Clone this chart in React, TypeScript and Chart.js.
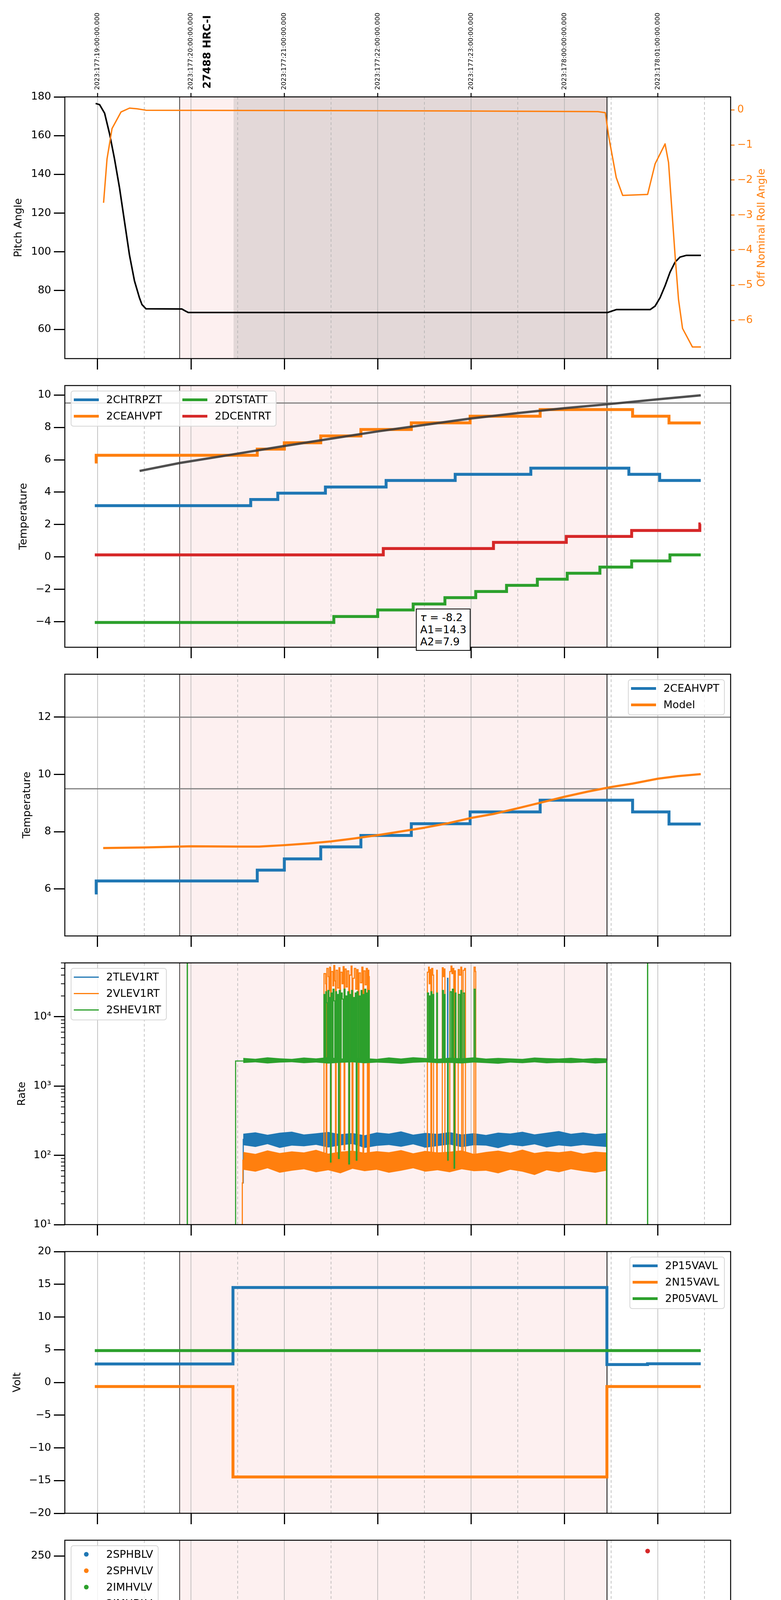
import Chart from "chart.js/auto";
import { useEffect, useRef } from "react";

Chart.defaults.font.family = "'DejaVu Sans', sans-serif";
Chart.defaults.color = "#000";

type Pt = [number, number | null];

const BLUE = "#1f77b4";
const ORANGE = "#ff7f0e";
const GREEN = "#2ca02c";
const RED = "#d62728";

// time axis (decimal hours, 2023-06-26 local)
const X_MIN = 14.649;
const X_MAX = 21.78;
const HOURS = [15, 16, 17, 18, 19, 20, 21];
const HOUR_LABELS = ["15h", "16h", "17h", "18h", "19h", "20h", "21h"];
const HALF_HOURS = [15.5, 16.5, 17.5, 18.5, 19.5, 20.5, 21.5];
const HALF_LABEL = "30";
const TOP_LABELS = [
  "2023:177:19:00:00.000",
  "2023:177:20:00:00.000",
  "2023:177:21:00:00.000",
  "2023:177:22:00:00.000",
  "2023:177:23:00:00.000",
  "2023:178:00:00:00.000",
  "2023:178:01:00:00.000",
];
const OBS_ID = "27488 HRC-I";
const OBS_ID_T = 16.18;
const OBS_START = 15.879;
const OBS_END = 20.456;
const HRC_ON = 16.456;
const X_TITLE = "2023-06-26 (177)";

// layout
const PANEL_TOPS = [248, 987, 1726, 2465, 3204, 3943, 4682, 5421];
const PANEL_H = 670;
const AXIS_LEFT = 166;
const AXIS_RIGHT = 1871;
const PAD_TOP = 50;
const PAD_BOTTOM = 60;

// ---------- panel 1: pitch / roll ----------
const PITCH: Pt[] = [
  [14.979, 176.6], [15.021, 176.0], [15.075, 171.6], [15.128, 161.0], [15.181, 148.0],
  [15.235, 133.0], [15.288, 115.7], [15.342, 98.2], [15.395, 85.0], [15.448, 76.3],
  [15.475, 72.8], [15.518, 70.6], [15.902, 70.5], [15.939, 69.5], [15.971, 68.7],
  [20.464, 68.7], [20.555, 70.2], [20.918, 70.2], [20.971, 72.0], [21.024, 76.3],
  [21.078, 82.5], [21.131, 89.5], [21.185, 94.7], [21.238, 97.3], [21.307, 98.2], [21.462, 98.2],
];
const ROLL: Pt[] = [
  [15.064, -2.65], [15.101, -1.4], [15.155, -0.53], [15.251, -0.06], [15.342, 0.05],
  [15.422, 0.03], [15.518, -0.01], [17.156, -0.02], [18.757, -0.03], [20.358, -0.05],
  [20.438, -0.08], [20.475, -0.77], [20.555, -1.93], [20.624, -2.44], [20.891, -2.41],
  [20.971, -1.54], [21.078, -0.97], [21.115, -1.5], [21.185, -4.15], [21.222, -5.41],
  [21.265, -6.23], [21.371, -6.76], [21.462, -6.76],
];
const PITCH_TICKS = [60, 80, 100, 120, 140, 160, 180];
const ROLL_TICKS = [-6, -5, -4, -3, -2, -1, 0];

// ---------- panel 2: temperatures ----------
const CHTRPZT: Pt[] = [
  [14.97, 3.17], [16.64, 3.55], [16.93, 3.94], [17.44, 4.32], [18.09, 4.72], [18.83, 5.1],
  [19.64, 5.48], [20.69, 5.1], [21.02, 4.72], [21.46, 4.72],
];
const CEAHVPT: Pt[] = [
  [14.97, 5.86], [14.985, 6.28], [16.71, 6.66], [17.0, 7.05], [17.39, 7.47], [17.82, 7.87],
  [18.36, 8.28], [18.99, 8.69], [19.74, 9.1], [20.73, 8.69], [21.12, 8.27], [21.46, 8.27],
];
const DTSTATT: Pt[] = [
  [14.97, -4.04], [17.53, -3.67], [18.0, -3.27], [18.38, -2.9], [18.72, -2.51], [19.05, -2.13],
  [19.38, -1.75], [19.71, -1.37], [20.03, -1.0], [20.38, -0.62], [20.72, -0.24], [21.13, 0.13], [21.46, 0.13],
];
const DCENTRT: Pt[] = [
  [14.97, 0.13], [18.06, 0.52], [19.24, 0.9], [20.02, 1.27], [20.72, 1.64], [21.45, 2.04], [21.46, 2.04],
];
const FIT_CURVE: Pt[] = [
  [15.45, 5.31], [15.88, 5.8], [16.46, 6.34], [17.0, 6.85], [17.5, 7.3], [18.0, 7.75], [18.5, 8.15],
  [19.0, 8.55], [19.5, 8.88], [20.0, 9.18], [20.45, 9.42], [21.0, 9.73], [21.46, 9.98],
];
const TEMP_TICKS = [-4, -2, 0, 2, 4, 6, 8, 10];
const FIT_TEXT = ["-8.2", "A1=14.3", "A2=7.9"];

// ---------- panel 3: model ----------
const CEA_MODEL: Pt[] = [
  [15.06, 7.43], [15.5, 7.45], [16.0, 7.49], [16.5, 7.48], [16.73, 7.48], [17.0, 7.53], [17.26, 7.59],
  [17.5, 7.66], [17.74, 7.76], [18.0, 7.88], [18.25, 8.01], [18.5, 8.14], [18.76, 8.3], [19.0, 8.48],
  [19.24, 8.62], [19.5, 8.82], [19.74, 9.01], [20.0, 9.22], [20.25, 9.4], [20.5, 9.56], [20.73, 9.68],
  [21.0, 9.85], [21.21, 9.94], [21.46, 10.01],
];
const MODEL_TICKS = [6, 8, 10, 12];

// ---------- panel 4: rates ----------
const RATE_T = [
  16.56, 16.69, 16.82, 16.95, 17.08, 17.21, 17.34, 17.47, 17.6, 17.73, 17.86, 17.99, 18.12, 18.25, 18.38,
  18.51, 18.64, 18.77, 18.9, 19.03, 19.16, 19.29, 19.42, 19.55, 19.68, 19.81, 19.94, 20.07, 20.2, 20.33, 20.45,
];
const TLEV_HI = [205, 215, 198, 212, 220, 200, 208, 218, 202, 210, 195, 214, 206, 222, 199, 211, 204, 216, 200, 209, 197, 213, 207, 219, 201, 212, 224, 205, 214, 203, 210];
const TLEV_LO = [140, 132, 145, 128, 138, 135, 142, 130, 139, 146, 128, 137, 141, 133, 144, 129, 136, 143, 131, 140, 138, 127, 142, 135, 144, 130, 139, 134, 141, 136, 132];
const VLEV_HI = [112, 105, 118, 108, 114, 110, 120, 106, 113, 117, 109, 115, 111, 119, 107, 116, 110, 113, 118, 105, 112, 117, 109, 121, 108, 114, 111, 116, 106, 113, 110];
const VLEV_LO = [62, 58, 65, 56, 60, 63, 57, 61, 55, 64, 59, 62, 56, 60, 65, 58, 61, 57, 63, 59, 60, 55, 62, 58, 52, 61, 57, 63, 59, 56, 60];
const SHEV_HI = [2550, 2480, 2600, 2520, 2470, 2580, 2510, 2620, 2490, 2560, 2530, 2470, 2590, 2500, 2610, 2540, 2480, 2570, 2520, 2600, 2490, 2550, 2510, 2470, 2580, 2530, 2500, 2560, 2480, 2540, 2510];
const SHEV_LO = [2150, 2200, 2120, 2180, 2210, 2140, 2190, 2110, 2170, 2200, 2130, 2180, 2150, 2090, 2170, 2200, 2140, 2160, 2120, 2190, 2150, 2100, 2180, 2140, 2200, 2130, 2170, 2150, 2190, 2120, 2160];
const TLEV1RT: Pt[] = [[16.555, 40], [16.56, 170], [18.748, 36000], [18.752, 170], [20.45, 140], [20.452, 140]];
const VLEV1RT: Pt[] = [
  [16.545, 8], [16.55, 40], [16.556, 85],
  [17.42, 90], [17.425, 42000], [17.442, 30000], [17.448, 95], [17.455, 50000], [17.47, 38000], [17.478, 24000],
  [17.485, 52000], [17.495, 100], [17.503, 45000], [17.52, 28000], [17.53, 55000], [17.54, 33000], [17.548, 110],
  [17.555, 47000], [17.57, 26000], [17.585, 51000], [17.595, 85], [17.602, 44000], [17.618, 30000], [17.63, 53000],
  [17.64, 120], [17.648, 49000], [17.662, 27000], [17.675, 46000], [17.69, 100], [17.7, 40000], [17.715, 54000],
  [17.725, 90], [17.735, 36000], [17.75, 50000], [17.765, 25000], [17.778, 48000], [17.79, 95], [17.8, 43000],
  [17.815, 31000], [17.83, 52000], [17.842, 105], [17.85, 46000], [17.865, 29000], [17.878, 50000], [17.89, 100],
  [17.898, 47000], [17.905, 38000], [17.91, 90],
  [18.528, 90], [18.532, 44000], [18.545, 52000], [18.552, 30000], [18.56, 48000], [18.57, 95], [18.578, 50000],
  [18.59, 40000], [18.598, 100], [18.628, 95], [18.632, 47000], [18.638, 90], [18.688, 100], [18.692, 51000],
  [18.702, 38000], [18.712, 49000], [18.72, 90], [18.768, 100], [18.772, 45000], [18.785, 54000], [18.795, 42000],
  [18.805, 50000], [18.815, 95], [18.825, 46000], [18.832, 100], [18.858, 90], [18.862, 48000], [18.875, 40000],
  [18.89, 52000], [18.9, 100], [18.915, 47000], [18.93, 50000], [18.94, 95], [19.028, 100], [19.032, 52000],
  [19.045, 45000], [19.05, 100], [20.45, 8], [20.46, 8],
];
const SHEV1RT: Pt[] = [
  [15.957, 5], [15.96, 1e6], [15.962, 5], [15.97, null],
  [16.47, 5], [16.478, 2300],
  [17.42, 2300], [17.424, 21000], [17.436, 2400], [17.444, 23000], [17.452, 16000], [17.46, 2300], [17.468, 24000],
  [17.478, 2500], [17.486, 19000], [17.494, 80], [17.5, 22000], [17.512, 2300], [17.522, 25000], [17.532, 17000],
  [17.54, 2400], [17.55, 23000], [17.56, 2300], [17.57, 21000], [17.58, 90], [17.588, 24000], [17.6, 2300],
  [17.61, 22000], [17.62, 18000], [17.63, 2400], [17.64, 25000], [17.65, 2300], [17.66, 20000], [17.67, 2300],
  [17.68, 23000], [17.69, 75], [17.698, 21000], [17.71, 2400], [17.72, 24000], [17.73, 2300], [17.74, 19000],
  [17.75, 2300], [17.76, 22000], [17.77, 85], [17.778, 23000], [17.79, 2400], [17.8, 20000], [17.812, 2300],
  [17.822, 24000], [17.832, 2300], [17.842, 21000], [17.852, 2400], [17.862, 25000], [17.872, 2300],
  [17.882, 22000], [17.892, 2300], [17.9, 24000], [17.91, 2300],
  [18.528, 2300], [18.532, 22000], [18.545, 2400], [18.552, 20000], [18.56, 2300], [18.57, 23000], [18.58, 2300],
  [18.592, 21000], [18.6, 2300], [18.628, 2300], [18.632, 22000], [18.64, 2400], [18.69, 2300], [18.694, 24000],
  [18.705, 2300], [18.715, 21000], [18.722, 2300], [18.745, 2300], [18.75, 85], [18.755, 2300], [18.77, 2300],
  [18.775, 23000], [18.79, 2400], [18.8, 25000], [18.812, 2300], [18.818, 65], [18.824, 2300], [18.83, 22000],
  [18.838, 2300], [18.86, 2300], [18.865, 21000], [18.88, 2300], [18.89, 24000], [18.9, 2300], [18.915, 22000],
  [18.93, 2400], [18.94, 2300], [19.028, 2300], [19.032, 25000], [19.045, 2300],
  [20.45, 2300], [20.452, 5], [20.46, null],
  [20.887, 5], [20.89, 1e6], [20.892, 5],
];
const RATE_TICKS = [10, 100, 1000, 10000];
const RATE_LABELS = ["10\u00b9", "10\u00b2", "10\u00b3", "10\u2074"];

// ---------- panel 5: voltages ----------
const P15VAVL: Pt[] = [[14.97, 2.82], [16.45, 14.51], [20.455, 2.73], [20.89, 2.85], [21.46, 2.85]];
const N15VAVL: Pt[] = [[14.97, -0.62], [16.45, -14.45], [20.455, -0.62], [21.46, -0.62]];
const P05VAVL: Pt[] = [[14.97, 4.87], [21.46, 4.87]];
const VOLT_TICKS = [-20, -15, -10, -5, 0, 5, 10, 15, 20];

// ---------- panel 6: HV monitors ----------
const IMHVLV_RUN: Pt[] = [
  [16.499, 108], [16.501, 104], [16.503, 100], [16.506, 97], [16.51, 94], [16.514, 91], [16.518, 88],
  [16.523, 85], [16.53, 82], [16.54, 80], [16.55, 79.2], [20.45, 79.2],
];
const IMHVLV_OUT: Pt[] = [[17.439, 127], [17.476, 127], [17.556, 127], [17.801, 127], [17.834, 127], [18.789, 127], [18.869, 127], [19.039, 127]];
const IMHBLV_RUN: Pt[] = [
  [16.5, 127], [16.5, 125], [16.501, 122], [16.502, 115], [16.505, 110], [16.507, 106], [16.51, 102],
  [16.514, 99], [16.517, 97], [16.52, 95], [16.525, 93], [16.53, 91], [16.535, 89], [16.545, 87.5],
  [16.555, 86.5], [16.565, 86], [20.45, 86],
];
const IMHBLV_OUT: Pt[] = [
  [17.449, 79.5], [17.476, 79.5], [17.556, 79.5], [17.647, 79.5], [17.796, 79.5], [17.828, 79.5],
  [18.789, 79.5], [18.869, 79.5], [19.039, 79.5], [20.891, 255],
];
const HV_TICKS = [0, 50, 100, 150, 200, 250];

// ---------- panel 7: detector temps ----------
const SPINATM: Pt[] = [
  [16.455, -0.5], [16.46, 3.25],
  [17.42, -0.5], [17.43, 3.25], [17.44, -0.5], [17.455, 3.25], [17.465, -0.5], [17.48, 3.25], [17.49, -0.5],
  [17.515, 3.25], [17.525, -0.5], [17.545, 3.25], [17.555, -0.5], [17.59, 3.25], [17.6, -0.5], [17.64, 3.25],
  [17.65, -0.5], [17.7, 3.25], [17.71, -0.5], [17.75, 3.25], [17.76, -0.5], [17.8, 3.25], [17.81, -0.5],
  [17.86, 3.25], [17.87, -0.5], [17.905, 3.25],
  [18.01, 3.71],
  [18.53, -0.5], [18.545, 3.71], [18.555, -0.5], [18.6, 3.71], [18.68, -0.5], [18.69, 3.71], [18.7, -0.5],
  [18.72, 3.71], [18.735, -0.5], [18.75, 3.71], [18.76, -0.5], [18.78, 3.71], [18.79, -0.5], [18.8, 3.71],
  [18.83, -0.5], [18.84, 3.71], [18.9, -0.5], [18.91, 3.71], [18.935, -0.5], [18.945, 3.71], [19.04, -0.5],
  [19.05, 3.71], [19.66, 4.15], [20.45, -0.5], [20.46, -0.5],
];
const SPHVATM: Pt[] = [
  [16.455, -0.5], [16.46, 15.55], [16.67, 15.25], [16.69, 15.55], [17.4, 15.85],
  [17.42, 10.4], [17.425, 15.9], [17.435, 10.3], [17.44, 16.0], [17.45, 10.5], [17.455, 15.9], [17.465, 10.5],
  [17.47, 16.0], [17.48, 10.5], [17.49, 15.9], [17.5, 10.5], [17.505, 16.0], [17.515, 10.5], [17.525, 15.9],
  [17.535, 10.5], [17.545, 16.0], [17.555, 10.5], [17.565, 15.9], [17.575, 10.5], [17.585, 16.0], [17.595, 10.5],
  [17.605, 15.9], [17.615, 10.5], [17.625, 16.0], [17.635, 10.5], [17.645, 15.9], [17.655, 10.5], [17.665, 16.0],
  [17.675, 10.5], [17.685, 15.9], [17.695, 10.5], [17.705, 16.0], [17.725, -0.5], [17.73, 10.5], [17.74, 16.0],
  [17.75, 10.5], [17.76, 15.9], [17.77, 10.5], [17.78, 16.0], [17.79, 10.5], [17.8, 15.9], [17.815, 10.5],
  [17.825, -0.5], [17.832, 16.0], [17.845, 10.5], [17.855, 16.0], [17.865, 10.5], [17.875, 15.9], [17.885, 10.5],
  [17.895, 16.0], [17.905, 10.5], [17.91, 16.05], [18.3, 16.4],
  [18.53, 11.1], [18.54, 16.4], [18.55, 11.1], [18.56, 16.4], [18.575, 11.1], [18.585, 16.4], [18.6, 11.1],
  [18.61, 16.4], [18.66, 11.1], [18.67, 16.4], [18.69, 11.1], [18.7, 16.4], [18.715, 11.1], [18.725, 16.4],
  [18.74, 11.1], [18.75, 16.4], [18.765, 11.1], [18.775, 16.45], [18.79, 11.1], [18.8, 16.6], [18.88, 11.1],
  [18.89, 16.6], [18.94, 11.1], [18.95, 16.6], [19.03, 11.1], [19.045, 16.6],
  [19.38, 17.0], [20.03, 17.2], [20.45, -0.5], [20.46, -0.5],
];
const IMINATM: Pt[] = [
  [16.455, -0.5], [16.46, 1.05], [17.27, 1.45],
  [17.42, 3.3], [17.43, 1.45], [17.44, 3.3], [17.45, 1.45], [17.465, 3.3], [17.475, 1.45], [17.49, 3.3],
  [17.5, 1.45], [17.51, 3.3], [17.52, 1.45], [17.535, 3.3], [17.545, 1.45], [17.56, 3.3], [17.57, 1.45],
  [17.58, 3.3], [17.59, 1.45], [17.6, 3.3], [17.61, 1.45], [17.625, 3.3], [17.64, 1.45], [17.65, 3.3],
  [17.665, 1.45], [17.675, 3.3], [17.69, 1.45], [17.7, 3.3], [17.715, 1.45], [17.725, 3.3], [17.74, 1.45],
  [17.75, 3.3], [17.765, 1.45], [17.775, 3.3], [17.79, 1.45], [17.8, 3.3], [17.815, 1.45], [17.825, 3.3],
  [17.84, 1.45], [17.85, 3.3], [17.865, 1.45], [17.875, 3.3], [17.89, 1.45], [17.9, 3.3], [17.91, 1.45],
  [18.53, 3.35], [18.545, 1.45], [18.68, 3.35], [18.69, 1.45], [18.7, 3.35], [18.715, 1.45], [18.73, 3.35],
  [18.745, 1.45], [18.76, 3.35], [18.775, 1.45], [18.79, 3.35], [18.8, 1.45], [18.82, 1.9], [18.86, 3.35],
  [18.875, 1.9], [18.94, 3.35], [18.955, 1.9], [19.03, 3.35], [19.045, 1.9],
  [19.83, 2.35], [20.45, -0.5], [20.46, -0.5],
];
const IMHVATM: Pt[] = [
  [16.455, -0.5], [16.46, 14.7], [16.58, 15.0], [16.7, 15.28], [16.81, 15.55], [16.92, 15.83], [17.05, 16.11],
  [17.19, 16.41], [17.36, 16.71],
  [17.42, 15.9], [17.43, 16.99], [17.44, 15.9], [17.45, 16.7], [17.46, 15.85], [17.47, 16.99], [17.48, 15.9],
  [17.5, 16.99], [17.51, 15.9], [17.52, 16.99], [17.535, 15.9], [17.55, 16.99], [17.56, 15.9], [17.575, 16.99],
  [17.585, 15.9], [17.6, 16.99], [17.61, 15.9], [17.625, 16.99], [17.635, 15.9], [17.65, 16.99], [17.66, 15.9],
  [17.675, 16.99], [17.685, 15.9], [17.7, 16.99], [17.725, 10.5], [17.73, 16.99], [17.745, 15.9], [17.755, 16.99],
  [17.77, 15.9], [17.78, 16.99], [17.795, 15.9], [17.805, 17.25], [17.81, 15.9], [17.82, 17.25], [17.835, 15.9],
  [17.85, 17.25], [17.86, 15.9], [17.875, 17.25], [17.89, 15.9], [17.905, 17.25], [18.1, 17.51], [18.43, 17.84],
  [18.53, 16.4], [18.54, 17.84], [18.56, 16.4], [18.57, 17.84], [18.59, 16.4], [18.6, 17.84], [18.64, 16.4],
  [18.65, 17.84], [18.69, 16.4], [18.7, 17.84], [18.72, 16.4], [18.73, 17.84], [18.76, 16.4], [18.77, 17.84],
  [18.79, 16.4], [18.8, 18.14], [18.86, 16.4], [18.87, 18.14], [18.94, 16.4], [18.95, 18.14], [19.03, 16.4],
  [19.045, 18.14], [19.32, 18.43], [19.96, 18.71], [20.45, -0.5], [20.885, -0.5], [20.888, 25], [20.892, -0.5],
  [20.9, -0.5],
];
const DET_TICKS = [0, 2.5, 5, 7.5, 10, 12.5, 15, 17.5];

// ---------- panel 8: FEA temps ----------
const FHTRMZT: Pt[] = [
  [14.97, -7.18], [16.36, -7.57], [16.61, -7.18], [16.8, -6.77], [16.97, -6.38], [17.13, -5.98], [17.145, -5.2],
  [17.155, -5.98], [17.28, -5.6], [17.44, -5.2], [17.6, -4.8], [17.77, -4.4], [17.93, -4.04], [18.12, -3.65],
  [18.3, -3.25], [18.5, -2.89], [18.81, -2.5], [18.92, -2.11], [19.12, -1.75], [19.33, -1.36], [19.46, -0.6],
  [19.47, -1.36], [19.55, -0.97], [19.79, -0.6], [19.8, -0.97], [19.81, -0.6], [20.04, -0.24], [20.29, 0.16],
  [20.92, -0.24], [21.17, -0.61], [21.46, -0.61],
];
const FRADPYT: Pt[] = [
  [14.97, -8.79], [15.45, -9.19], [15.76, -10.5], [16.82, -9.19], [16.98, -8.79], [17.14, -8.39], [17.32, -7.99],
  [17.49, -7.58], [17.68, -7.18], [17.88, -6.77], [18.07, -6.38], [18.28, -5.98], [18.49, -5.6], [18.71, -5.2],
  [18.94, -4.8], [19.17, -4.42], [19.42, -4.04], [19.67, -3.65], [19.93, -3.25], [20.21, -2.89], [20.47, -2.5],
  [20.62, -2.89], [20.94, -3.25], [21.2, -3.7], [21.22, -3.25], [21.46, -3.25],
];
const FEPRATM: Pt[] = [
  [16.475, -10.5], [16.48, -6.2], [16.52, -5.8], [16.57, -5.4], [16.62, -5.0], [16.68, -4.6], [16.81, -4.2],
  [16.94, -3.83], [17.1, -3.41], [17.22, -2.99], [17.4, -2.58],
  [17.42, -4.66], [17.43, -2.4], [17.44, -4.66], [17.45, -2.35], [17.462, -4.66], [17.472, -2.3], [17.485, -4.66],
  [17.495, -2.25], [17.51, -4.66], [17.52, -2.2], [17.535, -4.66], [17.545, -2.15], [17.56, -4.66], [17.57, -2.1],
  [17.585, -4.66], [17.595, -2.0], [17.61, -4.66], [17.62, -1.95], [17.635, -4.66], [17.645, -1.9], [17.66, -4.66],
  [17.67, -1.85], [17.685, -4.66], [17.695, -1.8], [17.71, -4.66], [17.72, -1.7], [17.735, -4.66], [17.745, -1.65],
  [17.76, -4.66], [17.77, -1.6], [17.785, -4.66], [17.795, -1.5], [17.81, -4.66], [17.82, -1.45], [17.835, -4.66],
  [17.845, -1.4], [17.86, -4.66], [17.87, -1.35], [17.885, -4.66], [17.895, -1.3],
  [17.91, -0.97], [18.09, -0.57], [18.28, -0.19], [18.5, 0.23],
  [18.53, -4.66], [18.54, 0.23], [18.555, -4.66], [18.565, 0.23], [18.58, 0.3], [18.67, -4.66], [18.68, 0.4],
  [18.695, -4.66], [18.705, 0.5], [18.72, 0.5], [18.75, -4.66], [18.76, 0.6], [18.775, -4.66], [18.785, 0.7],
  [18.8, -4.66], [18.81, 0.7], [18.85, -4.66], [18.86, 0.7], [19.01, -4.66], [19.02, 1.53],
  [19.45, 1.95], [19.74, 2.38], [20.01, 2.78], [20.2, 3.1], [20.33, 3.5], [20.45, -10.5], [20.46, -10.5],
];
const FE00ATM: Pt[] = [
  [16.455, -10.5], [16.46, -5.21], [16.61, -4.87], [16.73, -4.5], [16.84, -4.16], [16.93, -3.83], [17.05, -3.46],
  [17.16, -3.12], [17.29, -2.71], [17.4, -2.4],
  [17.42, 10], [17.428, -2.3], [17.436, 10], [17.444, -2.28], [17.452, 10], [17.46, -2.25], [17.468, 10],
  [17.476, -2.2], [17.484, 10], [17.492, -2.15], [17.5, 10], [17.508, -2.1], [17.516, 10], [17.524, -2.05],
  [17.532, 10], [17.54, -2.0], [17.548, 10], [17.556, -1.98], [17.564, 10], [17.572, -1.95], [17.58, 10],
  [17.588, -1.9], [17.596, 10], [17.604, -1.85], [17.612, 10], [17.62, -1.8], [17.628, 10], [17.636, -1.78],
  [17.644, 10], [17.652, -1.75], [17.66, 10], [17.668, -1.7], [17.676, 10], [17.684, -3.2], [17.692, 10],
  [17.7, -1.65], [17.708, 10], [17.716, -1.6], [17.724, 10], [17.73, -10.5], [17.734, 10], [17.742, -1.55],
  [17.75, 10], [17.758, -1.5], [17.766, 10], [17.774, -1.45], [17.782, 10], [17.79, -1.4], [17.798, 10],
  [17.806, -1.38], [17.814, 10], [17.822, -1.35], [17.828, -10.5], [17.832, 10], [17.84, -1.3], [17.848, 10],
  [17.856, -1.28], [17.864, 10], [17.872, -1.25], [17.88, 10], [17.888, -1.2], [17.896, 10], [17.904, -1.15],
  [17.91, -1.12], [18.09, -0.79], [18.22, -0.45], [18.38, -0.11],
  [18.53, 10], [18.538, 0.18], [18.555, 10], [18.563, 0.18], [18.595, 10], [18.603, 0.18], [18.635, 10],
  [18.643, 0.18], [18.685, 10], [18.693, 0.18], [18.72, 0.51], [18.725, 10], [18.733, 0.51], [18.755, 10],
  [18.763, 0.51], [18.775, 10], [18.783, 0.51], [18.815, 10], [18.823, 0.51], [18.84, 0.82], [18.855, 10],
  [18.863, 0.82], [18.895, 10], [18.903, 0.82], [18.935, 10], [18.943, 0.82], [19.015, 10], [19.023, 1.14],
  [19.23, 1.43], [19.39, 1.74], [19.5, 2.4], [19.51, 1.74], [19.56, 2.03], [19.74, 2.34], [19.96, 2.63],
  [20.14, 2.95], [20.36, 3.3], [20.45, -10.5], [20.885, -10.5], [20.888, 10], [20.892, -10.5], [20.9, -10.5],
];
const FEA_TICKS = [-8, -6, -4, -2, 0, 2];

// ---------- helpers ----------
const xy = (pts: Pt[]) => pts.map(([x, y]) => ({ x, y }));

function ln(pts: Pt[], color: string, width: number, extra: any = {}) {
  return {
    type: "line",
    data: xy(pts),
    borderColor: color,
    backgroundColor: color,
    borderWidth: width,
    pointRadius: 0,
    pointHoverRadius: 0,
    fill: false,
    tension: 0,
    clip: 0,
    ...extra,
  };
}
const step = (pts: Pt[], color: string, width: number) => ln(pts, color, width, { stepped: "before" });

function band(t: number[], lo: number[], hi: number[], color: string) {
  const base = { type: "line", borderColor: "transparent", borderWidth: 0, pointRadius: 0, tension: 0, clip: 0 };
  return [
    { ...base, data: t.map((x, i) => ({ x, y: lo[i] })), fill: false },
    { ...base, data: t.map((x, i) => ({ x, y: hi[i] })), fill: "-1", backgroundColor: color },
  ];
}

function dots(pts: Pt[], color: string, lineWidth: number) {
  return {
    type: "line",
    data: xy(pts),
    showLine: lineWidth > 0,
    borderColor: color,
    backgroundColor: color,
    borderWidth: lineWidth,
    pointRadius: 6,
    pointBorderWidth: 0,
    pointBackgroundColor: color,
    pointHoverRadius: 0,
    tension: 0,
    clip: 0,
  };
}

const minus = (s: string) => s.replace("-", "\u2212");
const fmtInt = (v: number) => minus(String(v));
const fmt1 = (v: number) => minus(v.toFixed(1));

type LegendItem = { label: string; color: string; w: number; dot?: boolean };
type PanelDef = {
  key: string;
  yMin: number;
  yMax: number;
  yTicks: number[];
  fmt: (v: number) => string;
  yTitle: string;
  titlePad: number;
  log?: boolean;
  dark?: boolean;
  hlines?: number[];
  datasets: any[];
  legend: { side: "left" | "right"; rows: number; items: LegendItem[] };
};

const PANELS: PanelDef[] = [
  {
    key: "pitch", yMin: 44.9, yMax: 180, yTicks: PITCH_TICKS, fmt: fmtInt, yTitle: "Pitch Angle", titlePad: 32, dark: true,
    datasets: [
      ln(PITCH, "#000", 4, { yAxisID: "y", borderJoinStyle: "round" }),
      ln(ROLL, ORANGE, 3.5, { yAxisID: "y2", borderJoinStyle: "round" }),
    ],
    legend: { side: "left", rows: 0, items: [] },
  },
  {
    key: "temp", yMin: -5.57, yMax: 10.58, yTicks: TEMP_TICKS, fmt: fmtInt, yTitle: "Temperature", titlePad: 45, hlines: [9.5],
    datasets: [
      step(CHTRPZT, BLUE, 7.5),
      step(CEAHVPT, ORANGE, 7.5),
      step(DTSTATT, GREEN, 7.5),
      step(DCENTRT, RED, 7.5),
      ln(FIT_CURVE, "rgba(60,60,60,0.9)", 6, { borderJoinStyle: "round" }),
    ],
    legend: {
      side: "left", rows: 2,
      items: [
        { label: "2CHTRPZT", color: BLUE, w: 7 },
        { label: "2CEAHVPT", color: ORANGE, w: 7 },
        { label: "2DTSTATT", color: GREEN, w: 7 },
        { label: "2DCENTRT", color: RED, w: 7 },
      ],
    },
  },
  {
    key: "model", yMin: 4.36, yMax: 13.5, yTicks: MODEL_TICKS, fmt: fmtInt, yTitle: "Temperature", titlePad: 54, hlines: [9.5, 12],
    datasets: [step(CEAHVPT, BLUE, 7.5), ln(CEA_MODEL, ORANGE, 5.5, { borderJoinStyle: "round" })],
    legend: {
      side: "right", rows: 2,
      items: [
        { label: "2CEAHVPT", color: BLUE, w: 7 },
        { label: "Model", color: ORANGE, w: 7 },
      ],
    },
  },
  {
    key: "rate", yMin: 10, yMax: 60000, yTicks: RATE_TICKS, fmt: (v: number) => RATE_LABELS[RATE_TICKS.indexOf(v)] || "",
    yTitle: "Rate", titlePad: 41, log: true,
    datasets: [
      ...band(RATE_T, TLEV_LO, TLEV_HI, BLUE),
      step(TLEV1RT, BLUE, 2.8),
      ...band(RATE_T, VLEV_LO, VLEV_HI, ORANGE),
      step(VLEV1RT, ORANGE, 2.8),
      ...band(RATE_T, SHEV_LO, SHEV_HI, GREEN),
      step(SHEV1RT, GREEN, 2.8),
    ],
    legend: {
      side: "left", rows: 3,
      items: [
        { label: "2TLEV1RT", color: BLUE, w: 3 },
        { label: "2VLEV1RT", color: ORANGE, w: 3 },
        { label: "2SHEV1RT", color: GREEN, w: 3 },
      ],
    },
  },
  {
    key: "volt", yMin: -20, yMax: 20, yTicks: VOLT_TICKS, fmt: fmtInt, yTitle: "Volt", titlePad: 29,
    datasets: [step(P15VAVL, BLUE, 7.5), step(N15VAVL, ORANGE, 7.5), step(P05VAVL, GREEN, 7.5)],
    legend: {
      side: "right", rows: 3,
      items: [
        { label: "2P15VAVL", color: BLUE, w: 7 },
        { label: "2N15VAVL", color: ORANGE, w: 7 },
        { label: "2P05VAVL", color: GREEN, w: 7 },
      ],
    },
  },
  {
    key: "hv", yMin: 0, yMax: 266, yTicks: HV_TICKS, fmt: fmtInt, yTitle: "HV Monitor", titlePad: 34,
    datasets: [dots(IMHVLV_RUN, GREEN, 12), dots(IMHVLV_OUT, GREEN, 0), dots(IMHBLV_RUN, RED, 12), dots(IMHBLV_OUT, RED, 0)],
    legend: {
      side: "left", rows: 4,
      items: [
        { label: "2SPHBLV", color: BLUE, w: 12, dot: true },
        { label: "2SPHVLV", color: ORANGE, w: 12, dot: true },
        { label: "2IMHVLV", color: GREEN, w: 12, dot: true },
        { label: "2IMHBLV", color: RED, w: 12, dot: true },
      ],
    },
  },
  {
    key: "det", yMin: 0, yMax: 19.9, yTicks: DET_TICKS, fmt: fmt1, yTitle: "Detector Temp", titlePad: 24,
    datasets: [step(SPINATM, BLUE, 7.5), step(SPHVATM, ORANGE, 7.5), step(IMINATM, GREEN, 7.5), step(IMHVATM, RED, 7.5)],
    legend: {
      side: "left", rows: 4,
      items: [
        { label: "2SPINATM", color: BLUE, w: 7 },
        { label: "2SPHVATM", color: ORANGE, w: 7 },
        { label: "2IMINATM", color: GREEN, w: 7 },
        { label: "2IMHVATM", color: RED, w: 7 },
      ],
    },
  },
  {
    key: "fea", yMin: -9.47, yMax: 3.21, yTicks: FEA_TICKS, fmt: fmtInt, yTitle: "FEA Temp", titlePad: 48,
    datasets: [step(FHTRMZT, BLUE, 7.5), step(FRADPYT, ORANGE, 7.5), step(FEPRATM, GREEN, 7.5), step(FE00ATM, RED, 7.5)],
    legend: {
      side: "left", rows: 4,
      items: [
        { label: "2FHTRMZT", color: BLUE, w: 7 },
        { label: "2FRADPYT", color: ORANGE, w: 7 },
        { label: "2FEPRATM", color: GREEN, w: 7 },
        { label: "2FE00ATM", color: RED, w: 7 },
      ],
    },
  },
];

const FONT = "'DejaVu Sans', sans-serif";

function decorPlugin(p: PanelDef, idx: number) {
  const isFirst = idx === 0;
  const isLast = idx === PANELS.length - 1;
  return {
    id: "decor",
    beforeDatasetsDraw(chart: any) {
      const { ctx, chartArea: a, scales } = chart;
      const px = (t: number) => scales.x.getPixelForValue(t);
      const h = a.bottom - a.top;
      ctx.save();
      ctx.beginPath();
      ctx.rect(a.left, a.top, a.right - a.left, h);
      ctx.clip();
      ctx.fillStyle = "#fdf0f0";
      ctx.fillRect(px(OBS_START), a.top, px(OBS_END) - px(OBS_START), h);
      if (p.dark) {
        ctx.fillStyle = "#e3d8d8";
        ctx.fillRect(px(HRC_ON), a.top, px(OBS_END) - px(HRC_ON), h);
      }
      const vline = (x: number, color: string, w: number, dash: number[]) => {
        ctx.beginPath();
        ctx.setLineDash(dash);
        ctx.strokeStyle = color;
        ctx.lineWidth = w;
        ctx.moveTo(x, a.top);
        ctx.lineTo(x, a.bottom);
        ctx.stroke();
      };
      HOURS.forEach((t) => vline(px(t), "#b0b0b0", 1.5, []));
      HALF_HOURS.forEach((t) => vline(px(t), "#b0b0b0", 1.5, [7, 6]));
      vline(px(OBS_START), "#000", 1.5, []);
      vline(px(OBS_END), "#000", 2, []);
      ctx.setLineDash([]);
      (p.hlines || []).forEach((v) => {
        const y = scales.y.getPixelForValue(v);
        ctx.beginPath();
        ctx.strokeStyle = "#808080";
        ctx.lineWidth = 3;
        ctx.moveTo(a.left, y);
        ctx.lineTo(a.right, y);
        ctx.stroke();
      });
      ctx.restore();
    },
    afterDatasetsDraw(chart: any) {
      const { ctx, chartArea: a, scales } = chart;
      const px = (t: number) => scales.x.getPixelForValue(t);
      ctx.save();
      ctx.strokeStyle = "#000";
      ctx.lineWidth = 2.5;
      ctx.strokeRect(a.left, a.top, a.right - a.left, a.bottom - a.top);

      if (p.log) {
        ctx.lineWidth = 2;
        RATE_TICKS.forEach((d) => {
          for (let m = 2; m <= 9; m++) {
            const v = d * m;
            if (v > p.yMax) continue;
            const y = scales.y.getPixelForValue(v);
            ctx.beginPath();
            ctx.moveTo(a.left - 10, y);
            ctx.lineTo(a.left, y);
            ctx.stroke();
          }
        });
      }

      if (isFirst) {
        ctx.lineWidth = 2.5;
        HOURS.forEach((t) => {
          ctx.beginPath();
          ctx.moveTo(px(t), a.top);
          ctx.lineTo(px(t), a.top - 10);
          ctx.stroke();
        });
        ctx.fillStyle = "#000";
        ctx.textAlign = "left";
        ctx.textBaseline = "middle";
        ctx.font = `16.7px ${FONT}`;
        HOURS.forEach((t, i) => {
          ctx.save();
          ctx.translate(px(t), a.top - 18);
          ctx.rotate(-Math.PI / 2);
          ctx.fillText(TOP_LABELS[i], 0, 0);
          ctx.restore();
        });
        ctx.font = `bold 27px ${FONT}`;
        ctx.save();
        ctx.translate(px(OBS_ID_T), a.top - 21);
        ctx.rotate(-Math.PI / 2);
        ctx.fillText(OBS_ID, 0, 0);
        ctx.restore();
        // right axis title
        ctx.font = `27px ${FONT}`;
        ctx.fillStyle = ORANGE;
        ctx.textAlign = "center";
        ctx.save();
        ctx.translate(1951, (a.top + a.bottom) / 2);
        ctx.rotate(-Math.PI / 2);
        ctx.fillText("Off Nominal Roll Angle", 0, 0);
        ctx.restore();
      }

      if (isLast) {
        ctx.fillStyle = "#000";
        ctx.textAlign = "center";
        ctx.textBaseline = "middle";
        ctx.font = `17px ${FONT}`;
        HALF_HOURS.forEach((t) => ctx.fillText(HALF_LABEL, px(t), a.bottom + 15));
        ctx.font = `27px ${FONT}`;
        HOURS.forEach((t, i) => ctx.fillText(HOUR_LABELS[i], px(t), a.bottom + 51));
        ctx.font = `33px ${FONT}`;
        ctx.fillText(X_TITLE, (a.left + a.right) / 2, a.bottom + 89);
      }
      ctx.restore();
    },
  };
}

function buildConfig(p: PanelDef, idx: number) {
  const padTop = idx === 0 ? PANEL_TOPS[0] : PAD_TOP;
  const padBottom = idx === PANELS.length - 1 ? 6200 - PANEL_TOPS[idx] - PANEL_H : PAD_BOTTOM;
  const scales: any = {
    x: {
      type: "linear",
      min: X_MIN,
      max: X_MAX,
      afterBuildTicks: (s: any) => {
        s.ticks = HOURS.map((v) => ({ value: v }));
      },
      afterFit: (s: any) => {
        s.height = padBottom;
      },
      ticks: { display: false },
      grid: { display: true, drawOnChartArea: false, drawTicks: true, tickLength: 28, tickWidth: 3, tickColor: "#000" },
      border: { display: false },
    },
    y: {
      type: p.log ? "logarithmic" : "linear",
      position: "left",
      min: p.yMin,
      max: p.yMax,
      afterBuildTicks: (s: any) => {
        s.ticks = p.yTicks.map((v) => ({ value: v }));
      },
      afterFit: (s: any) => {
        s.width = AXIS_LEFT;
      },
      ticks: { autoSkip: false, padding: 7, color: "#000", font: { size: 27 }, callback: (v: number) => p.fmt(v) },
      grid: { display: true, drawOnChartArea: false, drawTicks: true, tickLength: 28, tickWidth: 3, tickColor: "#000" },
      border: { display: false },
      title: { display: true, text: p.yTitle, color: "#000", font: { size: 27 }, padding: { top: p.titlePad, bottom: 0 } },
    },
  };
  if (idx === 0) {
    scales.y2 = {
      type: "linear",
      position: "right",
      min: -7.09,
      max: 0.37,
      afterBuildTicks: (s: any) => {
        s.ticks = ROLL_TICKS.map((v) => ({ value: v }));
      },
      afterFit: (s: any) => {
        s.width = 2000 - AXIS_RIGHT;
      },
      ticks: { autoSkip: false, padding: 7, color: ORANGE, font: { size: 27 }, callback: (v: number) => fmtInt(v) },
      grid: { display: true, drawOnChartArea: false, drawTicks: true, tickLength: 10, tickWidth: 2.5, tickColor: ORANGE },
      border: { display: false },
      title: { display: false },
    };
  }
  const n = p.datasets.length;
  return {
    type: "line",
    data: { datasets: p.datasets.map((d, i) => ({ ...d, order: n - i })) },
    options: {
      animation: false,
      responsive: true,
      maintainAspectRatio: false,
      events: [],
      layout: { padding: { top: padTop, left: 0, right: idx === 0 ? 0 : 2000 - AXIS_RIGHT, bottom: 0 } },
      plugins: { legend: { display: false }, tooltip: { enabled: false } },
      scales,
    },
    plugins: [decorPlugin(p, idx)],
  };
}

function PanelChart({ p, idx }: { p: PanelDef; idx: number }) {
  const canvasRef = useRef<HTMLCanvasElement | null>(null);
  const padTop = idx === 0 ? PANEL_TOPS[0] : PAD_TOP;
  const padBottom = idx === PANELS.length - 1 ? 6200 - PANEL_TOPS[idx] - PANEL_H : PAD_BOTTOM;

  useEffect(() => {
    if (!canvasRef.current) return;
    const chart = new Chart(canvasRef.current, buildConfig(p, idx) as any);
    return () => chart.destroy();
  }, [p, idx]);

  return (
    <div
      style={{
        position: "absolute",
        left: 0,
        top: PANEL_TOPS[idx] - padTop,
        width: 2000,
        height: padTop + PANEL_H + padBottom,
      }}
    >
      <canvas ref={canvasRef} />
    </div>
  );
}

function Legend({ spec, top }: { spec: PanelDef["legend"]; top: number }) {
  const style: any = {
    position: "absolute",
    top: top + 13,
    border: "2px solid #d6d6d6",
    borderRadius: 7,
    background: "rgba(255,255,255,0.8)",
    padding: "0 12px 4px 6px",
    fontSize: 27,
    lineHeight: "42px",
    display: "grid",
    gridAutoFlow: "column",
    gridTemplateRows: `repeat(${spec.rows}, 42px)`,
    columnGap: 52,
    color: "#000",
  };
  if (spec.side === "left") style.left = 181;
  else style.right = 2000 - 1856;
  return (
    <div style={style}>
      {spec.items.map((it) => (
        <div key={it.label} style={{ display: "flex", alignItems: "center", whiteSpace: "nowrap" }}>
          {it.dot ? (
            <span style={{ width: 64, marginRight: 19, display: "flex", justifyContent: "center" }}>
              <span style={{ width: 12, height: 12, borderRadius: 6, background: it.color }} />
            </span>
          ) : (
            <span style={{ display: "inline-block", width: 64, marginRight: 19, height: it.w, background: it.color }} />
          )}
          <span>{it.label}</span>
        </div>
      ))}
    </div>
  );
}

export default function App() {
  return (
    <div
      style={{
        position: "absolute",
        left: 0,
        top: 0,
        width: 2000,
        height: 6200,
        background: "#fff",
        overflow: "hidden",
        fontFamily: FONT,
      }}
    >
      {PANELS.map((p, i) => (
        <PanelChart key={p.key} p={p} idx={i} />
      ))}
      {PANELS.map((p, i) =>
        p.legend.items.length ? <Legend key={p.key + "-legend"} spec={p.legend} top={PANEL_TOPS[i]} /> : null
      )}
      <div
        style={{
          position: "absolute",
          left: 1065,
          top: 1558,
          border: "2.5px solid #000",
          background: "#fff",
          padding: "5px 9px 6px 9px",
          fontSize: 27,
          lineHeight: "31px",
          color: "#000",
        }}
      >
        <div>
          <i>{"\u03c4"}</i> = {FIT_TEXT[0]}
        </div>
        <div>{FIT_TEXT[1]}</div>
        <div>{FIT_TEXT[2]}</div>
      </div>
    </div>
  );
}
